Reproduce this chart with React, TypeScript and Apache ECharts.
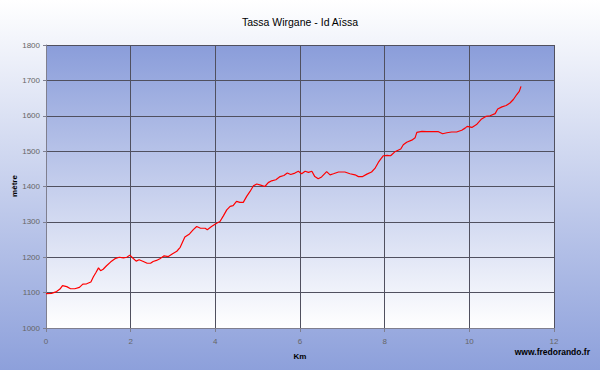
import React, { useEffect, useRef } from "react";
import * as echarts from "echarts";

const titleText = "Tassa Wirgane - Id Aïssa";
const xAxisName = "Km";
const yAxisName = "mètre";
const creditText = "www.fredorando.fr";

const kmValues = [
  0.0, 0.13, 0.25, 0.33, 0.39, 0.49, 0.58, 0.68, 0.79, 0.87, 0.96, 1.06, 1.12, 1.18, 1.24, 1.29, 1.35,
  1.43, 1.53, 1.63, 1.73, 1.83, 1.91, 1.98, 2.05, 2.13, 2.2, 2.3, 2.39, 2.47, 2.53, 2.61, 2.69, 2.79,
  2.89, 2.99, 3.09, 3.17, 3.28, 3.39, 3.48, 3.56, 3.65, 3.76, 3.81, 3.91, 4.03, 4.11, 4.19, 4.27, 4.35,
  4.42, 4.5, 4.58, 4.66, 4.74, 4.82, 4.9, 4.98, 5.07, 5.17, 5.25, 5.33, 5.43, 5.53, 5.62, 5.7, 5.78,
  5.88, 5.96, 6.04, 6.12, 6.2, 6.28, 6.35, 6.43, 6.51, 6.63, 6.71, 6.79, 6.91, 7.06, 7.18, 7.3, 7.38,
  7.48, 7.58, 7.69, 7.77, 7.85, 7.91, 7.97, 8.06, 8.14, 8.24, 8.38, 8.44, 8.52, 8.64, 8.72, 8.76, 8.88,
  8.99, 9.15, 9.27, 9.37, 9.47, 9.58, 9.7, 9.82, 9.9, 9.95, 10.06, 10.17, 10.29, 10.39, 10.49, 10.61,
  10.67, 10.77, 10.87, 10.96, 11.04, 11.12, 11.18, 11.22,
];

const altitudeValues = [
  1097, 1098, 1103, 1110, 1120, 1117, 1111, 1111, 1115, 1124, 1125, 1130, 1145, 1157, 1170, 1162, 1166,
  1176, 1187, 1196, 1200, 1198, 1200, 1206, 1198, 1189, 1193, 1188, 1183, 1183, 1188, 1191, 1196, 1204,
  1202, 1210, 1217, 1228, 1257, 1266, 1278, 1287, 1282, 1282, 1278, 1287, 1296, 1301, 1317, 1334, 1344,
  1346, 1358, 1355, 1355, 1372, 1386, 1402, 1407, 1404, 1400, 1411, 1416, 1419, 1428, 1431, 1438, 1434,
  1438, 1443, 1436, 1443, 1440, 1443, 1428, 1422, 1427, 1442, 1433, 1436, 1441, 1441, 1436, 1433, 1428,
  1428, 1435, 1441, 1451, 1468, 1478, 1487, 1488, 1487, 1498, 1506, 1518, 1525, 1531, 1538, 1553, 1556,
  1555, 1555, 1555, 1549, 1552, 1554, 1554, 1559, 1565, 1570, 1567, 1575, 1591, 1598, 1600, 1606,
  1619, 1625, 1629, 1636, 1646, 1660, 1669, 1683,
];

const xMin = 0;
const xMax = 12;
const xStep = 2;
const yMin = 1000;
const yMax = 1800;
const yStep = 100;

export default function App() {
  const ref = useRef<HTMLDivElement>(null);

  useEffect(() => {
    if (!ref.current) return;
    const chart = echarts.init(ref.current, null, { renderer: "svg" });
    const data = kmValues.map((k, i) => [k, altitudeValues[i]]);
    const labelFont = '"Liberation Sans", Arial, sans-serif';
    chart.setOption({
      animation: false,
      backgroundColor: "transparent",
      title: {
        text: titleText,
        left: "center",
        top: 11,
        textStyle: { fontFamily: labelFont, fontSize: 10.5, fontWeight: "normal", color: "#000" },
      },
      grid: {
        left: 46,
        top: 45,
        width: 508,
        height: 283,
        containLabel: false,
        outerBoundsMode: "none",
        show: true,
        borderWidth: 0,
        backgroundColor: new echarts.graphic.LinearGradient(0, 0, 0, 1, [
          { offset: 0, color: "#8A9DDA" },
          { offset: 1, color: "#FFFFFF" },
        ]),
      },
      xAxis: {
        type: "value",
        min: xMin,
        max: xMax,
        interval: xStep,
        name: xAxisName,
        nameLocation: "middle",
        nameGap: 24,
        nameTextStyle: { fontFamily: labelFont, fontSize: 8, fontWeight: "bold", color: "#000" },
        axisLine: { show: true, lineStyle: { color: "#7f7f8f", width: 1 } },
        axisTick: { show: true, length: 4, lineStyle: { color: "#7f7f8f" } },
        axisLabel: {
          fontFamily: labelFont,
          fontSize: 8,
          color: "#666",
          margin: 9,
          formatter: (v: number) => String(v),
        },
        splitLine: { show: true, lineStyle: { color: "#50505f", width: 1 } },
      },
      yAxis: {
        type: "value",
        min: yMin,
        max: yMax,
        interval: yStep,
        axisLine: { show: true, lineStyle: { color: "#7f7f8f", width: 1 } },
        axisTick: { show: true, length: 3, lineStyle: { color: "#7f7f8f" } },
        axisLabel: {
          fontFamily: labelFont,
          fontSize: 8,
          color: "#666",
          margin: 6,
          formatter: (v: number) => String(v),
        },
        splitLine: { show: true, lineStyle: { color: "#50505f", width: 1 } },
      },
      graphic: [
        {
          type: "text",
          x: 14,
          y: 186,
          rotation: Math.PI / 2,
          style: {
            text: yAxisName,
            font: 'bold 8px "Liberation Sans", Arial, sans-serif',
            fill: "#000",
            align: "center",
            verticalAlign: "middle",
          },
        },
        {
          type: "text",
          right: 10,
          top: 347,
          style: {
            text: creditText,
            font: 'bold 8.5px "Liberation Sans", Arial, sans-serif',
            fill: "#000",
          },
        },
      ],
      series: [
        {
          type: "line",
          data,
          showSymbol: false,
          symbol: "none",
          lineStyle: { color: "#FF0000", width: 1.2 },
          smooth: false,
        },
      ],
    });
    return () => chart.dispose();
  }, []);

  return (
    <div
      style={{
        position: "absolute",
        left: 0,
        top: 0,
        width: 600,
        height: 370,
        background: "linear-gradient(to bottom, #FFFFFF 0%, #8DA0DB 100%)",
      }}
    >
      <div ref={ref} style={{ width: 600, height: 370 }} />
    </div>
  );
}
